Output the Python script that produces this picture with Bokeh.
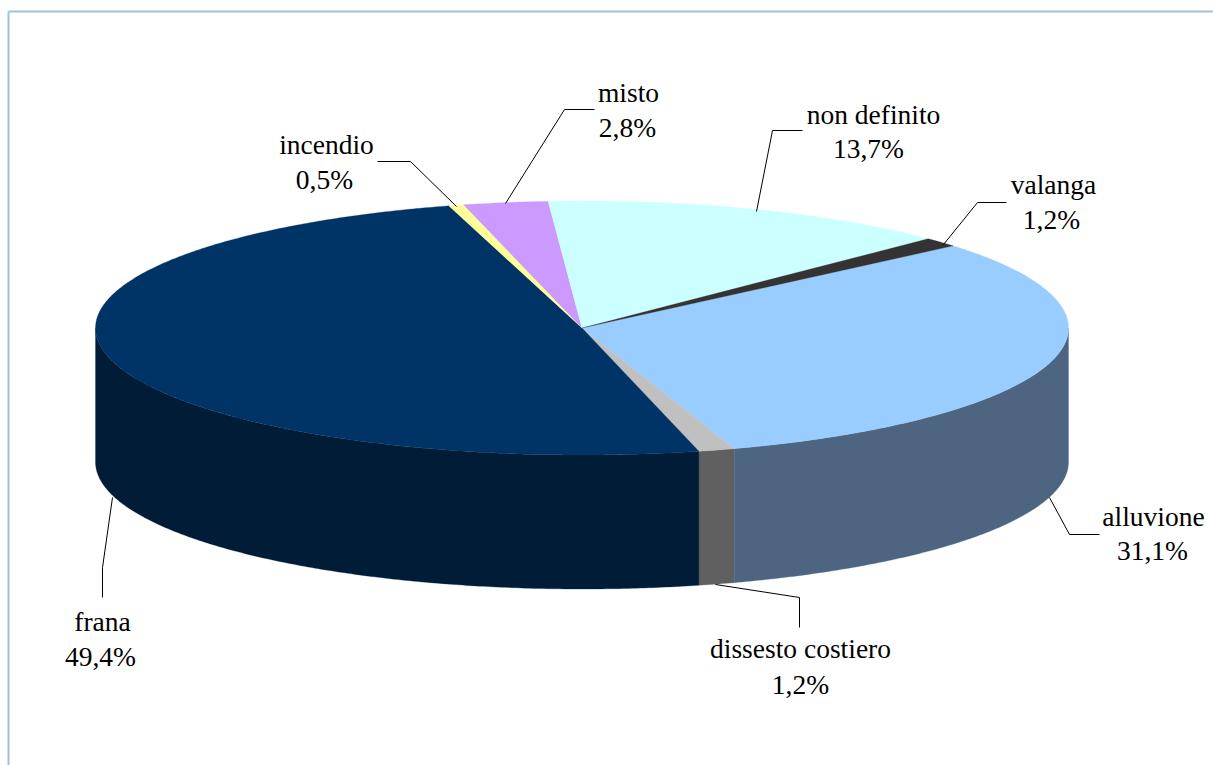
import numpy as np
from bokeh.plotting import figure
from bokeh.models import Range1d
from bokeh.core.properties import value
from bokeh.embed import file_html
from bokeh.resources import INLINE

# Data, clockwise from the start angle
categories = ["alluvione", "dissesto costiero", "frana", "incendio", "misto", "non definito", "valanga"]
values = [31.1, 1.2, 49.4, 0.5, 2.8, 13.7, 1.2]
labels = ["31,1%", "1,2%", "49,4%", "0,5%", "2,8%", "13,7%", "1,2%"]
top_colors = ["#99CCFF", "#C0C0C0", "#003366", "#FFFF99", "#CC99FF", "#CCFFFF", "#333333"]
side_colors = ["#4D6580", "#606060", "#001C37", "#808060", "#806080", "#608080", "#1A1A1A"]

# Layout, in page pixels
PAGE_L, PAGE_T, W, H = 0, 0, 1213, 765
CX, CY, RX, RY, DEPTH = 581.5, 327.5, 486.5, 127, 134
START_DEG = 40.3

label_x = [1153, 800, 102, 326, 628, 873, 1053]
name_base = [516, 648, 621, 144, 92, 114, 184]
pct_x = [1152, 800, 100, 324, 627, 868, 1051]
pct_base = [550, 684, 656, 179, 127, 148, 219]
leaders_x = [[1099, 1069, 1049], [715, 799, 799], [102, 102, 112], [377, 410, 456],
             [594, 564, 505], [802, 772, 756], [1006, 977, 943]]
leaders_y = [[534, 534, 497], [584, 597, 627], [597, 567, 497], [161, 161, 206],
             [109, 109, 203], [130, 130, 211], [202, 202, 244]]

p = figure(width=W, height=H, output_backend="svg", toolbar_location=None,
           x_range=Range1d(PAGE_L, PAGE_L + W), y_range=Range1d(PAGE_T + H, PAGE_T),
           min_border=0, outline_line_color=None)
p.axis.visible = False
p.grid.visible = False

# Frame
frame = "#9DC3DC"
p.line([8, 8], [11, PAGE_T + H], line_color=frame, line_width=2)
p.line([8, PAGE_L + W], [11, 11], line_color=frame, line_width=2)

total = sum(values)
edges = START_DEG - np.cumsum([0] + values) * 360.0 / total


def arc(a0, a1):
    n = max(2, int(abs(a1 - a0)) * 2 + 2)
    t = np.radians(np.linspace(a0, a1, n))
    return CX + RX * np.cos(t), CY - RY * np.sin(t)


# Outer wall: only the part of each slice on the near half of the ellipse
for a0, a1, col in zip(edges[:-1], edges[1:], side_colors):
    hi, lo = min(a0, 0.0), max(a1, -180.0)
    if hi <= lo:
        continue
    x, y = arc(hi, lo)
    p.patch(np.r_[x, x[::-1]], np.r_[y, y[::-1] + DEPTH], fill_color=col,
            line_color=col, line_width=0.3)

# Top face
for a0, a1, col in zip(edges[:-1], edges[1:], top_colors):
    x, y = arc(a0, a1)
    p.patch(np.r_[CX, x], np.r_[CY, y], fill_color=col, line_color=col, line_width=0.3)

# Leader lines
for lx, ly in zip(leaders_x, leaders_y):
    p.line(lx, ly, line_color="#000000", line_width=1)

font = value("Liberation Serif")
p.text(label_x, name_base, text=categories, text_font=font, text_font_size="27.5px",
       text_align="center", text_baseline="alphabetic", text_color="#000000")
p.text(pct_x, pct_base, text=labels, text_font=font, text_font_size="27.5px",
       text_align="center", text_baseline="alphabetic", text_color="#000000")

open("out.html", "w").write(file_html(p, INLINE))
